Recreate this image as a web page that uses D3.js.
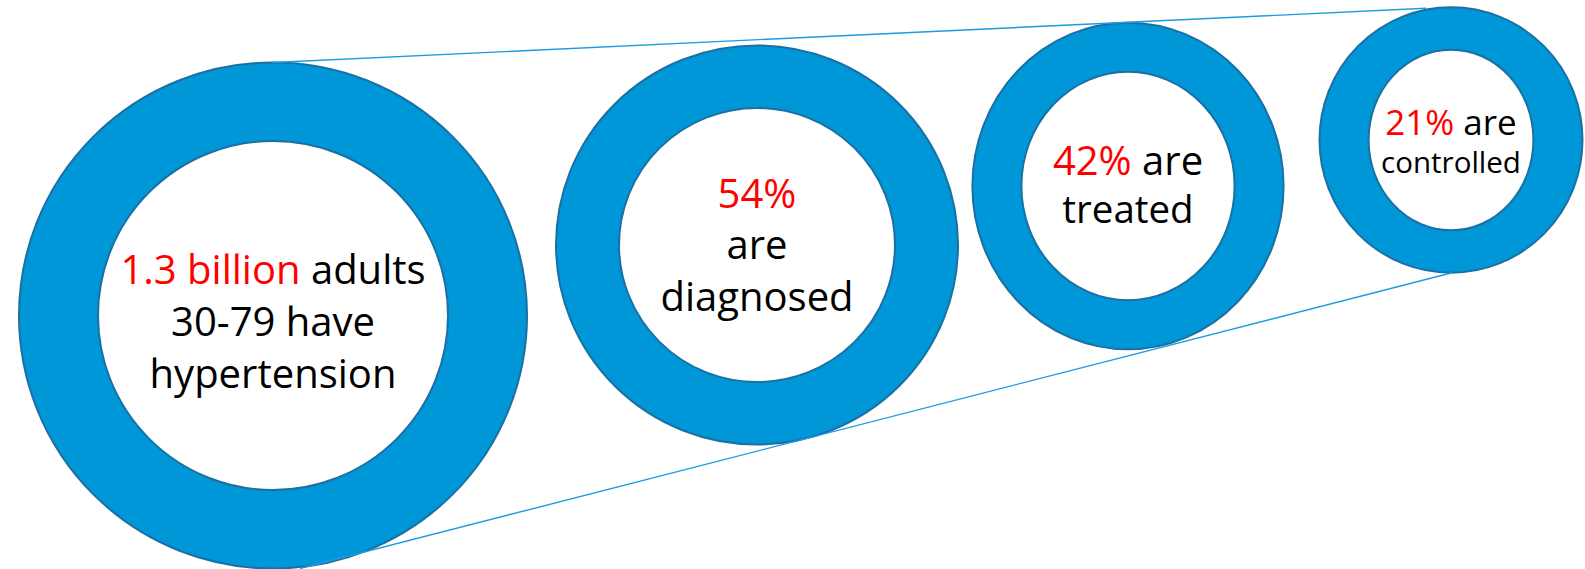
<!DOCTYPE html>
<html>
<head>
<meta charset="utf-8">
<script src="https://cdn.jsdelivr.net/npm/d3@7"></script>
<style>
  html, body { margin: 0; padding: 0; background: #fff; }
  svg { display: block; }
</style>
</head>
<body>
<div id="chart"></div>
<script>
// cascade stages, left to right
const stages = ["hypertension", "diagnosed", "treated", "controlled"];
const figures = ["1.3 billion", "54%", "42%", "21%"];
const labelLines = [
    ["1.3 billion adults", "30-79 have", "hypertension"],
    ["54%", "are", "diagnosed"],
    ["42% are", "treated"],
    ["21% are", "controlled"]
];

// ring geometry (outer rx/ry, inner rx/ry, centre) and text settings
const ringLayout = [
    { cx: 273,  cy: 315.5, orx: 254,   ory: 253,   irx: 175,   iry: 174.5, fs: [40, 40, 40],  lh: 52,   dy: 20 },
    { cx: 757,  cy: 245,   orx: 201,   ory: 199.5, irx: 138,   iry: 137,   fs: [40, 40, 40],  lh: 51.5, dy: 14 },
    { cx: 1128, cy: 186,   orx: 155.6, ory: 163.3, irx: 106.6, iry: 114.2, fs: [40, 38.5],    lh: 48.3, dy: 13 },
    { cx: 1451, cy: 140,   orx: 131.5, ory: 132.7, irx: 82.4,  iry: 90.3,  fs: [35, 29.5],    lh: 37.6, dy: 14 }
];

const width = 1585, height = 569;
const fillBlue = "#0097d8";
const edgeBlue = "#1a6fa3";
const lineBlue = "#1c9be0";

const svg = d3.select("#chart")
    .append("svg")
    .attr("width", width)
    .attr("height", height);

const rings = stages.map((s, i) => ({ stage: s, figure: figures[i], lines: labelLines[i], ...ringLayout[i] }));

// connector lines from first ring to last ring
const first = rings[0], last = rings[rings.length - 1];
const connectors = [
    [[first.cx, first.cy - first.ory], [last.cx - 25, last.cy - last.ory + 1]],
    [[first.cx + 27, first.cy + first.ory], [last.cx + 1, last.cy + last.ory]]
];

const g = svg.selectAll("g.ring")
    .data(rings)
    .enter()
    .append("g")
    .attr("class", "ring")
    .attr("transform", d => `translate(${d.cx},${d.cy})`);

g.append("ellipse")
    .attr("rx", d => d.orx)
    .attr("ry", d => d.ory)
    .attr("fill", fillBlue)
    .attr("stroke", edgeBlue)
    .attr("stroke-width", 2);

g.append("ellipse")
    .attr("rx", d => d.irx)
    .attr("ry", d => d.iry)
    .attr("fill", "#fff")
    .attr("stroke", edgeBlue)
    .attr("stroke-width", 2);

svg.selectAll("path.connector")
    .data(connectors)
    .enter()
    .append("path")
    .attr("class", "connector")
    .attr("d", d3.line())
    .attr("fill", "none")
    .attr("stroke", lineBlue)
    .attr("stroke-width", 1.4);

// labels, figure part in red
g.each(function(d) {
    const n = d.lines.length;
    const text = d3.select(this).append("text")
        .attr("text-anchor", "middle")
        .style("font-family", "'Segoe UI', 'Open Sans', sans-serif");

    d.lines.forEach((line, i) => {
        const y = (i - (n - 1) / 2) * d.lh + d.dy;
        const t = text.append("tspan")
            .attr("x", 0)
            .attr("y", y)
            .style("font-size", d.fs[i] + "px");
        if (line.startsWith(d.figure)) {
            t.append("tspan").attr("fill", "#ff0000").text(d.figure);
            const rest = line.slice(d.figure.length);
            if (rest) t.append("tspan").attr("fill", "#000").text(rest);
        } else {
            t.append("tspan").attr("fill", "#000").text(line);
        }
    });
});
</script>
</body>
</html>
